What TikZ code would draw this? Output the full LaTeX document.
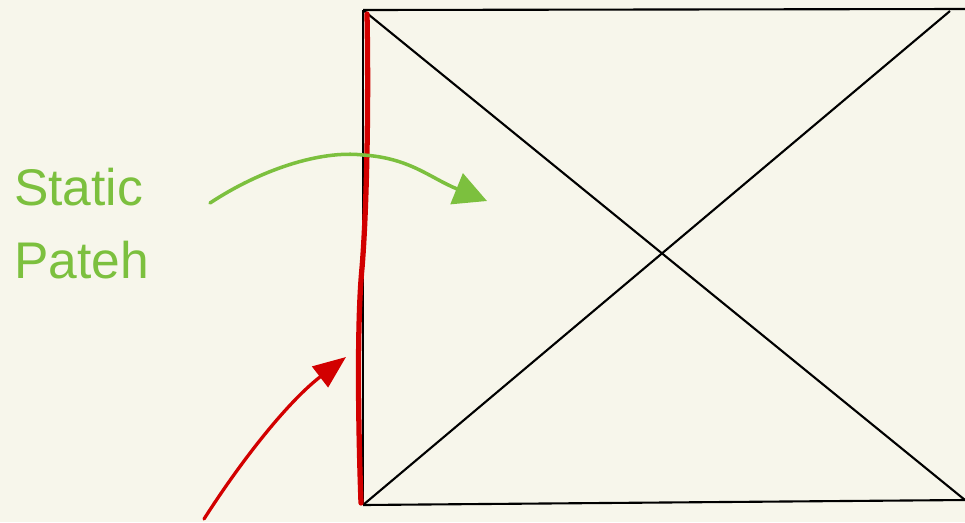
\documentclass[tikz,border=0pt]{standalone}
\usepackage{fontspec}
\setmainfont{Liberation Sans}
\usetikzlibrary{arrows.meta}
\definecolor{paper}{RGB}{247,246,235}
\definecolor{pengreen}{RGB}{124,192,62}
\definecolor{penred}{RGB}{210,0,0}
\begin{document}
\begin{tikzpicture}[
x=0.03cm,y=-0.03cm,
frame/.style={draw=black,line width=1.8pt},
greenpen/.style={draw=pengreen,line width=3pt,line cap=round},
redpen/.style={draw=penred,line width=2.8pt,line cap=round},
label/.style={text=pengreen,align=left,anchor=north west,inner sep=0pt,
font=\fontsize{44}{62}\selectfont}
]

\fill[paper] (0,0) rectangle (965,522);
\useasboundingbox (0,0) rectangle (965,522);

% corners of the frame
\coordinate (TL) at (363,10);
\coordinate (TR) at (965,9);
\coordinate (TD) at (950,11);
\coordinate (BL) at (363,505);
\coordinate (BR) at (965,500);

\draw[frame] (TL) -- (TR);
\draw[frame] (BL) -- (BR);
\draw[frame] (TL) -- (BL);
\draw[frame] (TL) -- (BR);
\draw[frame] (BL) -- (TD);

% red edge
\draw[redpen,line width=4.5pt] (367,14) .. controls (369,120) and (366,220) .. (362,268)
.. controls (357,320) and (358,420) .. (361,503);

\node[label] (txt) at (14,168) {Static\\Pateh};

\coordinate (gs) at (210,203);
\coordinate (ge) at (487,201);
\draw[greenpen,-{Triangle[length=28pt,width=28pt]}] (gs) .. controls (260,170) and (320,150) .. (363,155)
.. controls (410,158) and (430,178) .. (ge);

\coordinate (rs) at (204,519);
\coordinate (re) at (346,357);
\draw[redpen,-{Triangle[length=28pt,width=22pt]}] (rs) .. controls (245,455) and (290,400) .. (re);

\end{tikzpicture}
\end{document}
